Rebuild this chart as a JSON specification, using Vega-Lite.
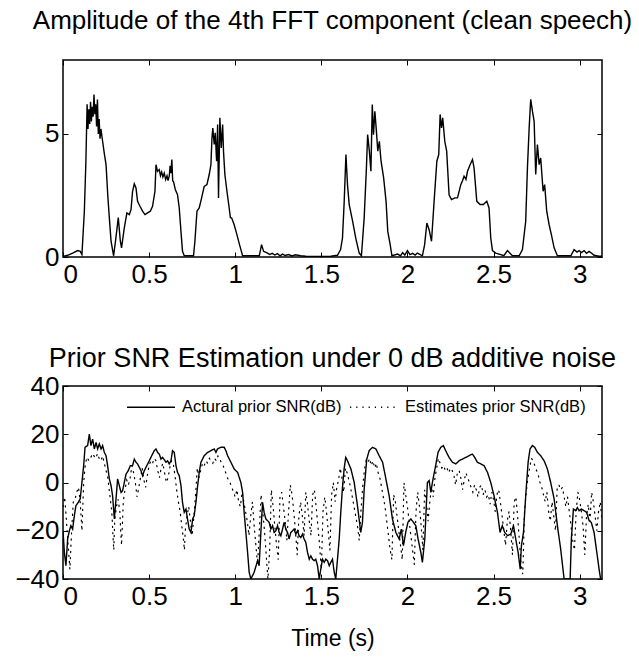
{
  "$schema": "https://vega.github.io/schema/vega-lite/v6.json",
  "background": "white",
  "padding": {"left": 14, "top": 6, "right": 0, "bottom": 5},
  "resolve": {"scale": {"strokeDash": "independent"}, "legend": {"strokeDash": "independent"}},
  "config": {
    "font": "Liberation Sans",
    "view": {"stroke": "black", "strokeWidth": 1.5},
    "axis": {"grid": false, "domain": false, "ticks": true, "tickSize": -5, "tickColor": "black", "tickWidth": 1,
             "labelFont": "Liberation Sans", "labelFontSize": 26, "labelColor": "black", "labelPadding": 9,
             "titleFont": "Liberation Sans", "titleFontSize": 23, "titleColor": "black", "titleFontWeight": "normal", "titlePadding": 18},
    "title": {"font": "Liberation Sans", "fontSize": 26, "fontWeight": "normal", "color": "black"},
    "legend": {"padding": 0},
    "concat": {"spacing": 56}
  },
  "datasets": {
    "amp": [
      {"t":0,"v":0.02},{"t":0.027,"v":0.07},{"t":0.056,"v":0.16},{"t":0.085,"v":0.26},{"t":0.1,"v":0.23},{"t":0.11,"v":0.1},{"t":0.124,"v":1.86},{"t":0.133,"v":3.9},{"t":0.14,"v":6.2},{"t":0.145,"v":5.2},{"t":0.15,"v":6.0},{"t":0.155,"v":5.4},{"t":0.16,"v":6.3},{"t":0.165,"v":5.5},{"t":0.17,"v":6.1},{"t":0.175,"v":5.7},{"t":0.18,"v":6.6},{"t":0.185,"v":5.8},{"t":0.19,"v":6.2},{"t":0.195,"v":5.3},{"t":0.2,"v":6.4},{"t":0.205,"v":5.0},{"t":0.21,"v":5.6},{"t":0.215,"v":4.8},{"t":0.22,"v":5.2},{"t":0.23,"v":4.7},{"t":0.24,"v":4.2},{"t":0.25,"v":3.75},{"t":0.26,"v":2.5},{"t":0.269,"v":1.6},{"t":0.279,"v":0.64},{"t":0.294,"v":0.05},{"t":0.307,"v":0.77},{"t":0.321,"v":1.6},{"t":0.333,"v":0.64},{"t":0.34,"v":0.37},{"t":0.356,"v":1.18},{"t":0.371,"v":1.79},{"t":0.385,"v":1.72},{"t":0.395,"v":1.92},{"t":0.404,"v":2.67},{"t":0.414,"v":2.97},{"t":0.424,"v":2.8},{"t":0.433,"v":2.26},{"t":0.447,"v":2.06},{"t":0.462,"v":1.86},{"t":0.476,"v":1.72},{"t":0.491,"v":1.79},{"t":0.507,"v":1.86},{"t":0.52,"v":2.06},{"t":0.534,"v":2.67},{"t":0.54,"v":3.75},{"t":0.549,"v":3.48},{"t":0.559,"v":3.55},{"t":0.566,"v":3.3},{"t":0.573,"v":3.45},{"t":0.58,"v":3.25},{"t":0.588,"v":3.41},{"t":0.596,"v":3.15},{"t":0.604,"v":3.3},{"t":0.61,"v":3.1},{"t":0.617,"v":3.28},{"t":0.622,"v":3.7},{"t":0.627,"v":3.4},{"t":0.632,"v":3.96},{"t":0.637,"v":3.1},{"t":0.642,"v":3.05},{"t":0.652,"v":2.74},{"t":0.665,"v":2.53},{"t":0.675,"v":1.99},{"t":0.685,"v":1.04},{"t":0.694,"v":0.23},{"t":0.704,"v":0.05},{"t":0.758,"v":0.05},{"t":0.766,"v":0.64},{"t":0.778,"v":1.86},{"t":0.791,"v":1.99},{"t":0.805,"v":2.4},{"t":0.82,"v":2.87},{"t":0.836,"v":2.94},{"t":0.849,"v":3.35},{"t":0.859,"v":3.75},{"t":0.865,"v":4.84},{"t":0.87,"v":5.24},{"t":0.878,"v":4.57},{"t":0.884,"v":5.04},{"t":0.892,"v":3.89},{"t":0.898,"v":5.38},{"t":0.903,"v":2.4},{"t":0.911,"v":5.65},{"t":0.919,"v":4.43},{"t":0.927,"v":5.38},{"t":0.932,"v":4.3},{"t":0.94,"v":3.35},{"t":0.952,"v":2.67},{"t":0.965,"v":1.99},{"t":0.972,"v":1.6},{"t":0.979,"v":1.59},{"t":0.994,"v":1.31},{"t":1.01,"v":0.91},{"t":1.025,"v":0.5},{"t":1.043,"v":0.05},{"t":1.14,"v":0.05},{"t":1.153,"v":0.5},{"t":1.165,"v":0.23},{"t":1.188,"v":0.16},{"t":1.2,"v":0.1},{"t":1.215,"v":0.15},{"t":1.23,"v":0.08},{"t":1.245,"v":0.14},{"t":1.26,"v":0.05},{"t":1.275,"v":0.12},{"t":1.29,"v":0.06},{"t":1.31,"v":0.1},{"t":1.33,"v":0.04},{"t":1.35,"v":0.09},{"t":1.38,"v":0.05},{"t":1.41,"v":0.03},{"t":1.44,"v":0.02},{"t":1.47,"v":0.02},{"t":1.5,"v":0.02},{"t":1.555,"v":0.03},{"t":1.594,"v":0.07},{"t":1.612,"v":0.3},{"t":1.623,"v":0.77},{"t":1.633,"v":2.26},{"t":1.643,"v":4.16},{"t":1.652,"v":2.94},{"t":1.662,"v":2.13},{"t":1.682,"v":1.45},{"t":1.7,"v":0.77},{"t":1.72,"v":0.16},{"t":1.733,"v":0.05},{"t":1.749,"v":1.59},{"t":1.762,"v":3.62},{"t":1.769,"v":4.97},{"t":1.779,"v":4.3},{"t":1.788,"v":3.48},{"t":1.796,"v":6.19},{"t":1.803,"v":4.97},{"t":1.811,"v":5.92},{"t":1.82,"v":5.1},{"t":1.828,"v":4.3},{"t":1.837,"v":4.7},{"t":1.847,"v":3.89},{"t":1.862,"v":3.21},{"t":1.876,"v":2.26},{"t":1.886,"v":1.04},{"t":1.9,"v":0.5},{"t":1.91,"v":0.05},{"t":1.943,"v":0.12},{"t":1.96,"v":0.05},{"t":1.972,"v":0.18},{"t":1.985,"v":0.08},{"t":2.0,"v":0.26},{"t":2.015,"v":0.1},{"t":2.03,"v":0.15},{"t":2.045,"v":0.08},{"t":2.058,"v":0.16},{"t":2.087,"v":0.05},{"t":2.1,"v":0.5},{"t":2.113,"v":1.38},{"t":2.126,"v":1.11},{"t":2.14,"v":0.64},{"t":2.155,"v":2.26},{"t":2.171,"v":3.89},{"t":2.182,"v":4.16},{"t":2.19,"v":5.79},{"t":2.198,"v":5.24},{"t":2.205,"v":5.65},{"t":2.217,"v":4.7},{"t":2.228,"v":4.3},{"t":2.242,"v":2.53},{"t":2.256,"v":2.33},{"t":2.275,"v":2.4},{"t":2.291,"v":2.4},{"t":2.31,"v":2.94},{"t":2.32,"v":3.1},{"t":2.329,"v":3.28},{"t":2.34,"v":3.15},{"t":2.349,"v":3.48},{"t":2.364,"v":3.75},{"t":2.378,"v":3.96},{"t":2.387,"v":3.62},{"t":2.403,"v":2.26},{"t":2.422,"v":2.13},{"t":2.441,"v":2.13},{"t":2.461,"v":2.26},{"t":2.474,"v":1.99},{"t":2.484,"v":0.77},{"t":2.494,"v":0.26},{"t":2.513,"v":0.16},{"t":2.542,"v":0.1},{"t":2.56,"v":0.05},{"t":2.581,"v":0.26},{"t":2.61,"v":0.05},{"t":2.649,"v":0.05},{"t":2.668,"v":0.3},{"t":2.687,"v":1.45},{"t":2.697,"v":3.62},{"t":2.707,"v":5.24},{"t":2.716,"v":6.4},{"t":2.726,"v":5.92},{"t":2.736,"v":5.51},{"t":2.745,"v":3.35},{"t":2.755,"v":4.57},{"t":2.765,"v":3.75},{"t":2.774,"v":4.02},{"t":2.788,"v":2.67},{"t":2.797,"v":2.94},{"t":2.809,"v":1.86},{"t":2.823,"v":1.31},{"t":2.836,"v":0.91},{"t":2.852,"v":0.37},{"t":2.871,"v":0.05},{"t":2.949,"v":0.05},{"t":2.968,"v":0.3},{"t":2.985,"v":0.2},{"t":2.997,"v":0.26},{"t":3.01,"v":0.18},{"t":3.026,"v":0.26},{"t":3.04,"v":0.15},{"t":3.055,"v":0.23},{"t":3.07,"v":0.15},{"t":3.084,"v":0.07},{"t":3.113,"v":0.03},{"t":3.13,"v":0.03}
    ],
    "act": [
      {"t":0,"v":-20},{"t":0.008,"v":-29},{"t":0.017,"v":-34.5},{"t":0.027,"v":-23.4},{"t":0.037,"v":-20},{"t":0.046,"v":-17.9},{"t":0.056,"v":-19.3},{"t":0.066,"v":-13.7},{"t":0.075,"v":-9.6},{"t":0.089,"v":-8.2},{"t":0.1,"v":-6.8},{"t":0.108,"v":-1.3},{"t":0.12,"v":7},{"t":0.128,"v":14.6},{"t":0.143,"v":15.3},{"t":0.153,"v":20.1},{"t":0.162,"v":15.3},{"t":0.172,"v":18},{"t":0.182,"v":13.9},{"t":0.192,"v":16.6},{"t":0.201,"v":13.9},{"t":0.211,"v":16},{"t":0.221,"v":13.9},{"t":0.23,"v":15.3},{"t":0.24,"v":12.5},{"t":0.25,"v":11.1},{"t":0.259,"v":7},{"t":0.269,"v":1.5},{"t":0.279,"v":-1.3},{"t":0.288,"v":-5.5},{"t":0.298,"v":-15.1},{"t":0.308,"v":-6.8},{"t":0.317,"v":1.5},{"t":0.327,"v":-1.3},{"t":0.337,"v":-4.1},{"t":0.346,"v":-3.4},{"t":0.356,"v":0},{"t":0.366,"v":3.5},{"t":0.379,"v":4.9},{"t":0.391,"v":7},{"t":0.404,"v":7},{"t":0.414,"v":9.7},{"t":0.424,"v":8.4},{"t":0.433,"v":7.7},{"t":0.443,"v":6.3},{"t":0.453,"v":4.9},{"t":0.462,"v":2.8},{"t":0.472,"v":4.9},{"t":0.487,"v":7},{"t":0.501,"v":9},{"t":0.515,"v":11.1},{"t":0.53,"v":13.2},{"t":0.54,"v":13.9},{"t":0.549,"v":12.5},{"t":0.559,"v":11.8},{"t":0.569,"v":9.7},{"t":0.578,"v":10.4},{"t":0.588,"v":9.5},{"t":0.598,"v":8.4},{"t":0.607,"v":9},{"t":0.617,"v":7.7},{"t":0.627,"v":9},{"t":0.636,"v":13.2},{"t":0.646,"v":12.5},{"t":0.656,"v":7},{"t":0.665,"v":4.2},{"t":0.675,"v":2.8},{"t":0.685,"v":-1.3},{"t":0.694,"v":-8.2},{"t":0.704,"v":-12.4},{"t":0.714,"v":-11},{"t":0.723,"v":-15.1},{"t":0.733,"v":-19.3},{"t":0.743,"v":-20.7},{"t":0.753,"v":-15.1},{"t":0.762,"v":-13.7},{"t":0.772,"v":-8.2},{"t":0.782,"v":-1.3},{"t":0.791,"v":4.2},{"t":0.801,"v":8.4},{"t":0.82,"v":11.1},{"t":0.84,"v":12.5},{"t":0.859,"v":13.2},{"t":0.878,"v":13.9},{"t":0.888,"v":12.5},{"t":0.897,"v":13.9},{"t":0.917,"v":14.6},{"t":0.936,"v":14.6},{"t":0.946,"v":13.2},{"t":0.956,"v":11.1},{"t":0.975,"v":8.4},{"t":0.994,"v":5.6},{"t":1.014,"v":4.2},{"t":1.033,"v":0},{"t":1.043,"v":-4.1},{"t":1.052,"v":-12.4},{"t":1.062,"v":-20.7},{"t":1.072,"v":-29},{"t":1.081,"v":-37.2},{"t":1.091,"v":-40},{"t":1.11,"v":-37.2},{"t":1.13,"v":-32.4},{"t":1.139,"v":-34.5},{"t":1.149,"v":-20.7},{"t":1.159,"v":-8.2},{"t":1.168,"v":-12.4},{"t":1.178,"v":-15.1},{"t":1.188,"v":-15.8},{"t":1.197,"v":-16.5},{"t":1.207,"v":-19.3},{"t":1.217,"v":-17.9},{"t":1.226,"v":-20.7},{"t":1.236,"v":-20},{"t":1.246,"v":-17.9},{"t":1.255,"v":-20.7},{"t":1.265,"v":-22.1},{"t":1.275,"v":-19.3},{"t":1.284,"v":-16.5},{"t":1.294,"v":-19.3},{"t":1.304,"v":-20.7},{"t":1.313,"v":-23.4},{"t":1.323,"v":-20.7},{"t":1.333,"v":-20},{"t":1.342,"v":-19.3},{"t":1.352,"v":-21.4},{"t":1.362,"v":-20},{"t":1.371,"v":-22.1},{"t":1.381,"v":-22.8},{"t":1.391,"v":-21.4},{"t":1.4,"v":-23.4},{"t":1.41,"v":-24.8},{"t":1.42,"v":-29},{"t":1.43,"v":-31.8},{"t":1.439,"v":-30.4},{"t":1.449,"v":-31.8},{"t":1.459,"v":-32.4},{"t":1.468,"v":-31.8},{"t":1.478,"v":-34.5},{"t":1.488,"v":-40},{"t":1.497,"v":-35.9},{"t":1.507,"v":-31.8},{"t":1.517,"v":-33.1},{"t":1.526,"v":-31.8},{"t":1.536,"v":-32.4},{"t":1.546,"v":-34.5},{"t":1.555,"v":-33.1},{"t":1.565,"v":-31.8},{"t":1.575,"v":-37.2},{"t":1.584,"v":-40},{"t":1.594,"v":-31.8},{"t":1.604,"v":-23.4},{"t":1.613,"v":-12.4},{"t":1.623,"v":-2},{"t":1.633,"v":6},{"t":1.642,"v":10.4},{"t":1.652,"v":9},{"t":1.672,"v":5.6},{"t":1.691,"v":0},{"t":1.71,"v":-9.6},{"t":1.729,"v":-20.7},{"t":1.739,"v":-16.5},{"t":1.749,"v":-2.7},{"t":1.764,"v":9.7},{"t":1.778,"v":13.2},{"t":1.797,"v":14.6},{"t":1.817,"v":13.9},{"t":1.836,"v":11.1},{"t":1.856,"v":8.4},{"t":1.875,"v":1.5},{"t":1.894,"v":-5.5},{"t":1.913,"v":-15.1},{"t":1.933,"v":-20.7},{"t":1.942,"v":-22},{"t":1.952,"v":-23.4},{"t":1.965,"v":-19.3},{"t":1.977,"v":-26.2},{"t":1.99,"v":-20.7},{"t":2.003,"v":-16.5},{"t":2.02,"v":-15.1},{"t":2.035,"v":-16.5},{"t":2.049,"v":-17.9},{"t":2.062,"v":-23.4},{"t":2.078,"v":-29},{"t":2.087,"v":-33.1},{"t":2.101,"v":-23.4},{"t":2.116,"v":0},{"t":2.126,"v":0.8},{"t":2.136,"v":-4.1},{"t":2.145,"v":0},{"t":2.164,"v":7},{"t":2.178,"v":12.5},{"t":2.194,"v":14.6},{"t":2.209,"v":15.3},{"t":2.222,"v":13.2},{"t":2.242,"v":10.4},{"t":2.261,"v":8.4},{"t":2.281,"v":7.7},{"t":2.3,"v":9},{"t":2.319,"v":9.7},{"t":2.339,"v":10.4},{"t":2.358,"v":11.1},{"t":2.377,"v":11.8},{"t":2.391,"v":10.4},{"t":2.406,"v":8.4},{"t":2.426,"v":7.7},{"t":2.445,"v":7},{"t":2.465,"v":4.2},{"t":2.484,"v":0},{"t":2.503,"v":-5.5},{"t":2.523,"v":-12.4},{"t":2.538,"v":-20.7},{"t":2.551,"v":-17.9},{"t":2.565,"v":-20.7},{"t":2.581,"v":-22},{"t":2.6,"v":-21.4},{"t":2.616,"v":-17.9},{"t":2.629,"v":-23.4},{"t":2.643,"v":-29},{"t":2.655,"v":-35.9},{"t":2.662,"v":-26.2},{"t":2.674,"v":-20.7},{"t":2.687,"v":-5.5},{"t":2.701,"v":8.4},{"t":2.712,"v":13.9},{"t":2.726,"v":15.3},{"t":2.739,"v":14.6},{"t":2.755,"v":12.5},{"t":2.774,"v":11.1},{"t":2.794,"v":9},{"t":2.813,"v":5.6},{"t":2.832,"v":0},{"t":2.852,"v":-6.8},{"t":2.871,"v":-17.9},{"t":2.89,"v":-27.6},{"t":2.91,"v":-40},{"t":2.945,"v":-40},{"t":2.952,"v":-23.4},{"t":2.964,"v":-11},{"t":2.977,"v":-11.7},{"t":2.987,"v":-10.4},{"t":2.997,"v":-11.7},{"t":3.01,"v":-11},{"t":3.026,"v":-11.7},{"t":3.041,"v":-12.4},{"t":3.055,"v":-15.8},{"t":3.068,"v":-16.6},{"t":3.084,"v":-20.7},{"t":3.1,"v":-29},{"t":3.113,"v":-35.9},{"t":3.122,"v":-40}
    ],
    "est": [
      {"t":0,"v":-10},{"t":0.01,"v":-6},{"t":0.02,"v":-16},{"t":0.03,"v":-26},{"t":0.04,"v":-36},{"t":0.05,"v":-20},{"t":0.06,"v":-8},{"t":0.07,"v":-7},{"t":0.08,"v":-4},{"t":0.09,"v":-2},{"t":0.1,"v":-8},{"t":0.11,"v":-20},{"t":0.12,"v":0},{"t":0.13,"v":8},{"t":0.14,"v":10.5},{"t":0.15,"v":9},{"t":0.16,"v":10},{"t":0.17,"v":12},{"t":0.18,"v":11},{"t":0.19,"v":10},{"t":0.2,"v":12},{"t":0.21,"v":10},{"t":0.22,"v":9},{"t":0.23,"v":11},{"t":0.24,"v":8},{"t":0.25,"v":5},{"t":0.26,"v":2},{"t":0.27,"v":-4},{"t":0.28,"v":-10},{"t":0.285,"v":-14},{"t":0.29,"v":-22},{"t":0.295,"v":-28},{"t":0.3,"v":-16},{"t":0.31,"v":-10},{"t":0.32,"v":-7},{"t":0.33,"v":-12},{"t":0.335,"v":-20},{"t":0.34,"v":-26},{"t":0.35,"v":-8},{"t":0.36,"v":-3},{"t":0.37,"v":1},{"t":0.38,"v":-1},{"t":0.39,"v":2},{"t":0.4,"v":7},{"t":0.41,"v":4},{"t":0.42,"v":0},{"t":0.43,"v":-6},{"t":0.44,"v":-2},{"t":0.45,"v":2},{"t":0.46,"v":6},{"t":0.47,"v":1},{"t":0.48,"v":-2},{"t":0.49,"v":3},{"t":0.5,"v":7},{"t":0.51,"v":9},{"t":0.52,"v":8},{"t":0.53,"v":10},{"t":0.54,"v":9},{"t":0.55,"v":5},{"t":0.56,"v":2},{"t":0.57,"v":6},{"t":0.58,"v":8},{"t":0.59,"v":4},{"t":0.6,"v":0},{"t":0.61,"v":2},{"t":0.62,"v":6},{"t":0.63,"v":9},{"t":0.64,"v":8},{"t":0.65,"v":3},{"t":0.66,"v":-3},{"t":0.67,"v":-8},{"t":0.68,"v":-12},{"t":0.69,"v":-18},{"t":0.7,"v":-24},{"t":0.705,"v":-28},{"t":0.71,"v":-20},{"t":0.72,"v":-14},{"t":0.73,"v":-10},{"t":0.74,"v":-16},{"t":0.75,"v":-22},{"t":0.76,"v":-14},{"t":0.77,"v":-5},{"t":0.78,"v":6},{"t":0.79,"v":2},{"t":0.8,"v":5},{"t":0.81,"v":8},{"t":0.82,"v":7},{"t":0.83,"v":9},{"t":0.84,"v":8},{"t":0.85,"v":10},{"t":0.86,"v":9},{"t":0.87,"v":8},{"t":0.88,"v":10},{"t":0.89,"v":9},{"t":0.9,"v":11},{"t":0.91,"v":10},{"t":0.92,"v":8},{"t":0.93,"v":7},{"t":0.94,"v":5},{"t":0.95,"v":3},{"t":0.96,"v":1},{"t":0.97,"v":0},{"t":0.98,"v":-2},{"t":0.99,"v":-4},{"t":1.0,"v":-6},{"t":1.01,"v":-3},{"t":1.02,"v":-8},{"t":1.03,"v":-10},{"t":1.04,"v":-4},{"t":1.05,"v":-8},{"t":1.06,"v":-12},{"t":1.07,"v":-16},{"t":1.08,"v":-22},{"t":1.09,"v":-14},{"t":1.1,"v":-8},{"t":1.11,"v":-18},{"t":1.12,"v":-26},{"t":1.13,"v":-34},{"t":1.14,"v":-20},{"t":1.15,"v":-5},{"t":1.16,"v":-12},{"t":1.17,"v":-20},{"t":1.18,"v":-30},{"t":1.19,"v":-40},{"t":1.2,"v":-28},{"t":1.21,"v":-3},{"t":1.22,"v":-10},{"t":1.23,"v":-18},{"t":1.24,"v":-26},{"t":1.25,"v":-32},{"t":1.26,"v":-6},{"t":1.27,"v":-4},{"t":1.28,"v":-10},{"t":1.29,"v":-16},{"t":1.3,"v":-24},{"t":1.31,"v":-12},{"t":1.32,"v":-1},{"t":1.33,"v":-5},{"t":1.34,"v":-12},{"t":1.35,"v":-20},{"t":1.36,"v":-30},{"t":1.37,"v":-14},{"t":1.38,"v":-8},{"t":1.39,"v":-14},{"t":1.4,"v":-22},{"t":1.41,"v":-4},{"t":1.42,"v":-9},{"t":1.43,"v":-16},{"t":1.44,"v":-22},{"t":1.45,"v":-5},{"t":1.46,"v":-3},{"t":1.47,"v":-10},{"t":1.48,"v":-18},{"t":1.49,"v":-26},{"t":1.5,"v":-36},{"t":1.51,"v":-12},{"t":1.52,"v":-6},{"t":1.53,"v":-12},{"t":1.54,"v":-20},{"t":1.55,"v":-28},{"t":1.56,"v":-5},{"t":1.57,"v":0},{"t":1.58,"v":-8},{"t":1.59,"v":-2},{"t":1.6,"v":1},{"t":1.61,"v":6},{"t":1.62,"v":2},{"t":1.63,"v":-4},{"t":1.64,"v":6},{"t":1.65,"v":4},{"t":1.66,"v":1},{"t":1.67,"v":-2},{"t":1.68,"v":-6},{"t":1.69,"v":-10},{"t":1.7,"v":-14},{"t":1.71,"v":-18},{"t":1.72,"v":-24},{"t":1.73,"v":-12},{"t":1.74,"v":-2},{"t":1.75,"v":5},{"t":1.76,"v":9},{"t":1.77,"v":8},{"t":1.78,"v":10},{"t":1.79,"v":7},{"t":1.8,"v":9},{"t":1.81,"v":6},{"t":1.82,"v":8},{"t":1.83,"v":4},{"t":1.84,"v":2},{"t":1.85,"v":-2},{"t":1.86,"v":-6},{"t":1.87,"v":-10},{"t":1.88,"v":-16},{"t":1.89,"v":-22},{"t":1.9,"v":-28},{"t":1.91,"v":-32},{"t":1.92,"v":-5},{"t":1.93,"v":-8},{"t":1.94,"v":-14},{"t":1.95,"v":-20},{"t":1.96,"v":-26},{"t":1.97,"v":-32},{"t":1.98,"v":0},{"t":1.99,"v":-5},{"t":2.0,"v":-10},{"t":2.01,"v":-16},{"t":2.02,"v":-22},{"t":2.03,"v":-28},{"t":2.04,"v":-34},{"t":2.05,"v":-12},{"t":2.06,"v":-4},{"t":2.07,"v":-10},{"t":2.08,"v":-18},{"t":2.09,"v":-28},{"t":2.1,"v":-3},{"t":2.11,"v":-8},{"t":2.12,"v":-16},{"t":2.13,"v":-8},{"t":2.14,"v":-2},{"t":2.15,"v":-6},{"t":2.16,"v":2},{"t":2.17,"v":6},{"t":2.18,"v":10},{"t":2.19,"v":8},{"t":2.2,"v":6},{"t":2.21,"v":7},{"t":2.22,"v":5},{"t":2.23,"v":6},{"t":2.24,"v":4},{"t":2.25,"v":6},{"t":2.26,"v":5},{"t":2.27,"v":3},{"t":2.28,"v":-1},{"t":2.29,"v":4},{"t":2.3,"v":5},{"t":2.31,"v":2},{"t":2.32,"v":-3},{"t":2.33,"v":1},{"t":2.34,"v":4},{"t":2.35,"v":2},{"t":2.36,"v":0},{"t":2.37,"v":-2},{"t":2.38,"v":-4},{"t":2.39,"v":-1},{"t":2.4,"v":-3},{"t":2.41,"v":-6},{"t":2.42,"v":-2},{"t":2.43,"v":-1},{"t":2.44,"v":-5},{"t":2.45,"v":-3},{"t":2.46,"v":-6},{"t":2.47,"v":-5},{"t":2.48,"v":-9},{"t":2.49,"v":-4},{"t":2.5,"v":-7},{"t":2.51,"v":-12},{"t":2.52,"v":-5},{"t":2.53,"v":-3},{"t":2.54,"v":-8},{"t":2.55,"v":-14},{"t":2.56,"v":-20},{"t":2.57,"v":-26},{"t":2.58,"v":-16},{"t":2.59,"v":-12},{"t":2.6,"v":-20},{"t":2.61,"v":-30},{"t":2.62,"v":-8},{"t":2.63,"v":-6},{"t":2.64,"v":-14},{"t":2.65,"v":-24},{"t":2.66,"v":-34},{"t":2.67,"v":-38},{"t":2.68,"v":-12},{"t":2.69,"v":-4},{"t":2.7,"v":2},{"t":2.71,"v":6},{"t":2.72,"v":10},{"t":2.73,"v":9},{"t":2.74,"v":7},{"t":2.75,"v":5},{"t":2.76,"v":3},{"t":2.77,"v":0},{"t":2.78,"v":-2},{"t":2.79,"v":-5},{"t":2.8,"v":-8},{"t":2.81,"v":-4},{"t":2.82,"v":-12},{"t":2.83,"v":-16},{"t":2.84,"v":-8},{"t":2.85,"v":-14},{"t":2.86,"v":-20},{"t":2.87,"v":-2},{"t":2.88,"v":-1},{"t":2.89,"v":-3},{"t":2.9,"v":-2},{"t":2.91,"v":-6},{"t":2.92,"v":-10},{"t":2.93,"v":-6},{"t":2.94,"v":-12},{"t":2.95,"v":-18},{"t":2.96,"v":-24},{"t":2.97,"v":-28},{"t":2.98,"v":-12},{"t":2.99,"v":-4},{"t":3.0,"v":-7},{"t":3.01,"v":-12},{"t":3.02,"v":-18},{"t":3.03,"v":-30},{"t":3.04,"v":-14},{"t":3.05,"v":-9},{"t":3.06,"v":-16},{"t":3.07,"v":-4},{"t":3.08,"v":-8},{"t":3.09,"v":-14},{"t":3.1,"v":-20},{"t":3.11,"v":-12},{"t":3.12,"v":-8},{"t":3.13,"v":-16}
    ]
  },
  "vconcat": [
    {
      "title": {"text": "Amplitude of the 4th FFT component (clean speech)", "fontSize": 26, "offset": 26},
      "width": 539,
      "height": 197,
      "resolve": {"axis": {"x": "independent", "y": "independent"}},
      "layer": [
        {
          "data": {"name": "amp"},
          "mark": {"type": "line", "color": "black", "strokeWidth": 1.4, "clip": true},
          "encoding": {
            "x": {"field": "t", "type": "quantitative", "scale": {"domain": [0, 3.13], "nice": false, "zero": false},
                  "axis": {"values": [0, 0.5, 1, 1.5, 2, 2.5, 3], "format": "~g", "title": null}},
            "y": {"field": "v", "type": "quantitative", "scale": {"domain": [0, 8], "nice": false},
                  "axis": {"values": [0, 5], "title": null}}
          }
        },
        {
          "data": {"name": "amp"},
          "mark": {"type": "line", "strokeOpacity": 0},
          "encoding": {
            "x": {"field": "t", "type": "quantitative", "axis": {"orient": "top", "labels": false, "values": [0, 0.5, 1, 1.5, 2, 2.5, 3], "title": null}},
            "y": {"field": "v", "type": "quantitative", "axis": {"orient": "right", "labels": false, "values": [0, 5], "title": null}}
          }
        }
      ]
    },
    {
      "title": {"text": "Prior SNR Estimation under 0 dB additive noise", "fontSize": 27, "offset": 0},
      "width": 539,
      "height": 193,
      "resolve": {"axis": {"x": "independent", "y": "independent"}},
      "layer": [
        {
          "data": {"name": "act"},
          "mark": {"type": "line", "color": "black", "strokeWidth": 1.4, "clip": true},
          "encoding": {
            "x": {"field": "t", "type": "quantitative", "scale": {"domain": [0, 3.13], "nice": false, "zero": false},
                  "axis": {"values": [0, 0.5, 1, 1.5, 2, 2.5, 3], "format": "~g", "title": "Time (s)"}},
            "y": {"field": "v", "type": "quantitative", "scale": {"domain": [-40, 40], "nice": false},
                  "axis": {"values": [-40, -20, 0, 20, 40], "title": null}},
            "strokeDash": {"datum": "A", "scale": {"domain": ["A", "E"], "range": [[1, 0], [1.2, 5]]},
                  "legend": {"title": null, "orient": "none", "legendX": 63, "legendY": -4, "direction": "horizontal",
                             "symbolType": "stroke", "symbolSize": 2300, "symbolStrokeWidth": 1.4, "symbolStrokeColor": "black",
                             "labelFont": "Liberation Sans", "labelFontSize": 16.5, "labelColor": "black", "labelOffset": 6, "columnPadding": 5, "labelLimit": 400,
                             "labelExpr": "datum.label == 'A' ? 'Actural prior SNR(dB)' : 'Estimates prior SNR(dB)'"}}
          }
        },
        {
          "data": {"name": "est"},
          "mark": {"type": "line", "color": "black", "strokeWidth": 1.2, "strokeCap": "round", "clip": true},
          "encoding": {
            "x": {"field": "t", "type": "quantitative", "axis": null},
            "y": {"field": "v", "type": "quantitative", "axis": null},
            "strokeDash": {"datum": "E"}
          }
        },
        {
          "data": {"name": "act"},
          "mark": {"type": "line", "strokeOpacity": 0},
          "encoding": {
            "x": {"field": "t", "type": "quantitative", "axis": {"orient": "top", "labels": false, "values": [0, 0.5, 1, 1.5, 2, 2.5, 3], "title": null}},
            "y": {"field": "v", "type": "quantitative", "axis": {"orient": "right", "labels": false, "values": [-40, -20, 0, 20, 40], "title": null}}
          }
        }
      ]
    }
  ]
}
